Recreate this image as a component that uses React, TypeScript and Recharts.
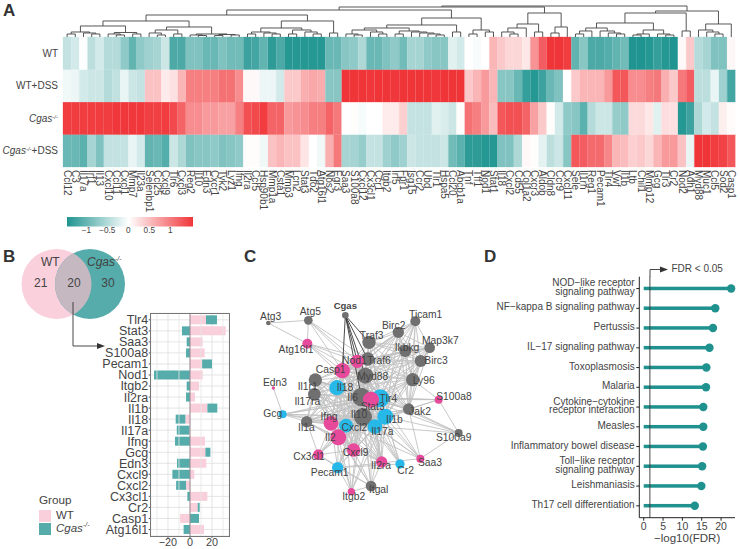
import {
  Bar,
  BarChart,
  CartesianGrid,
  Cell,
  ComposedChart,
  Line,
  LineChart,
  ReferenceArea,
  ReferenceLine,
  Scatter,
  XAxis,
  YAxis,
} from "recharts";

const FONT = "'Liberation Sans', Arial, sans-serif";
const INK = "#444444";
const TEAL = "#1f918e";
const PINK = "#f9cfdb";
const BAR_TEAL = "#55acaa";

// ---- A: heatmap ----
const genes = [
  "Ccl12", "C3", "Il17a", "Irf1", "Il13", "Cxcl10", "Ccl11", "Cxcl1", "Mmp7", "Il23a", "Selenbp1", "Ccl25", "Cxcl9", "Tlr6",
  "Cxcl3", "Reg2", "Il10", "Edn3", "Cxcr1", "Tyk2", "Lyz1", "Ifng", "Il2ra", "Ccr5", "Hsp90b1", "Mmp1a", "Csta1", "Mmp3",
  "Lcn2", "Stat3", "Tdo2", "Atg16l1", "Nos2", "Egr3", "Saa3", "S100a8", "Cxcl12", "Cx3cl1", "Ccr1", "Itgb2", "Irf5", "Fpr1",
  "Isg15", "Ccr2", "Ubd", "Tlr1", "Hspa5", "Ccl20", "Abcb1a", "Tnf", "Tff1", "Nod1", "Stat1", "Il18", "Cxcl2", "Cd55",
  "Col1a2", "Cxcr3", "Aldob", "Cldn8", "Ccr9", "Cxcl11", "Sele", "Il1rn", "Reg1", "Pecam1", "Tlr4", "Vwf", "Il1b", "Ltb",
  "Chil1", "Mmp12", "Gcg", "Tlr3", "Cr2", "Nod2", "Adh1", "Myd88", "Muc1", "Ccl5", "Sod2", "Casp1",
];
const zWt = [
  -0.4, -0.3, -0.02, -0.45, -0.3, -0.5, -0.5, -0.75, -1.05, -0.75, -0.65, -0.6, -0.35, -1.2, -1.2, -0.85, -0.85, -1.0, -1.0, -0.85,
  -0.95, -0.95, -1.3, -1.25, -1.05, -1.4, -1.2, -1.45, -1.45, -1.45, -1.45, -1.45, -1.0, -1.0, -0.8, -0.75, -0.55, -1.0, -1.0, -0.85,
  -0.75, -0.95, -0.6, -0.6, -0.75, -0.8, -0.8, -0.2, -0.3, 0, -0.05, 0, 0.55, 0.4, 0.3, 0.3, 0.18, 0.8, 1.2, 1.5,
  1.5, 1.45, -1.05, -0.8, -1.2, -1.2, -1.15, -1.05, -0.95, -1.5, -1.5, -1.45, -1.35, -1.45, -1.5, 0.05, 0.4, -0.5, -0.6, -0.85, -0.85, 0.06,
];
const zWtDss = [
  -0.1, -0.12, -0.3, -0.35, -0.35, -0.5, -0.42, -0.15, -0.35, -0.4, 0.45, 0.45, 0.15, 0.22, 0.55, 0.95, 0.95, 0.95, 0.95, 1.05,
  1.05, 0.85, 0.05, 0.05, -0.12, -0.12, -0.3, 0.4, 0.4, 0.6, 0.65, 0.62, -0.8, -0.8, 1.5, 1.5, 1.5, 1.48, 1.5, 1.5,
  1.48, 1.5, 1.5, 1.5, 1.5, 1.48, 1.5, 1.5, 1.5, 0.4, 0.55, 0.75, 0.55, -0.8, -0.8, -1.0, -1.35, -1.45, -1.3, -1.0,
  -0.85, 0, 0.4, 0.55, 0.55, 0.55, 0.75, 1.25, 1.25, 0.85, 0.85, 0.95, 1.0, 0.6, 0.4, 1.0, 1.2, -0.45, -0.45, -0.15, -0.65, -1.25,
];
const zCgas = [
  1.45, 1.45, 1.45, 1.45, 1.45, 1.45, 1.48, 1.48, 1.48, 1.48, 1.42, 1.42, 1.45, 1.35, 1.15, 0.85, 0.85, 0.75, 0.75, 0.7,
  0.7, 0.95, 1.3, 1.35, 1.45, 1.15, 1.15, 0.75, 0.8, 0.85, 0.95, 0.95, 1.15, 1.0, 0, 0.02, -0.06, 0, 0, 0.15,
  0.15, 0.35, -0.4, -0.4, -0.4, -0.2, -0.25, -0.35, 0.02, 1.05, 0.95, 0.75, 0.5, 1.25, 1.3, 1.3, 1.15, 0.7, 0.4, 0.02,
  -0.3, -0.75, -0.8, -1.1, -0.5, -0.35, -0.35, -0.7, -0.75, 0.28, 0.28, 0.18, -0.2, 0.25, 0.22, -1.45, -1.3, -0.55, -0.3, -0.4, 0.12, 0.03,
];
const zCgasDss = [
  -1.0, -1.0, -1.1, -0.6, -0.85, -0.4, -0.4, -0.4, -0.15, -0.3, -1.05, -1.0, -1.15, -0.35, -0.55, -0.85, -0.8, -0.8, -0.75, -0.85,
  -0.8, -0.75, 0.02, 0.02, -0.1, 0.45, 0.55, 0.45, 0.45, 0.2, 0, -0.1, 0.6, 1.0, -0.6, -0.6, -0.7, -0.4, -0.4, -0.65,
  -0.75, -0.65, -0.35, -0.4, -0.4, -0.4, -0.35, -0.95, -1.1, -1.4, -1.4, -1.45, -1.45, -0.85, -0.85, -0.55, 0.05, 0.02, -0.18, -0.45,
  -0.35, -0.8, 1.25, 1.2, 1.1, 1.1, 0.9, 0.55, 0.5, 0.35, 0.4, 0.3, 0.55, 0.75, 0.75, 0.45, -0.15, 1.5, 1.5, 1.45, 1.4, 1.25,
];
const heatRowsBottomUp = [zCgasDss, zCgas, zWtDss, zWt];
const heatTable = genes.map((gene) => ({ gene, r0: 1, r1: 1, r2: 1, r3: 1 }));
const colorTicks = [-1, -0.5, 0, 0.5, 1];
const colorRange = [-1.46, 1.54];

// dendrogram: [merge height, left, right], leaves are 1-based column numbers
type TreeNode = number | [number, TreeNode, TreeNode];
const dendroC1: TreeNode = [22,
  [16,
    [11,
      [5, [3, 1, 2], [4, 3, [3, 4, 5]]],
      [4.5, [3, 6, [2, 7, 8]], [3, 9, 10]]],
    [10,
      [7, [4, 11, [2, 12, 13]], [3, 14, 15]],
      [3, [2, 16, [1.5, 17, 18]], [2.5, [1.5, 19, 20], [2, 21, 22]]]]],
  [16,
    [9,
      [5, [3, 23, 24], [4, 25, [3, 26, 27]]],
      [7, [3, 28, 29], [5, 30, [3, 31, 32]]]],
    [4, 33, 34]]];
const dendroC2: TreeNode = [19,
  [12,
    [9,
      [7, [3, 35, [2, 36, 37]], [5, 38, [3, 39, 40]]],
      [6, [3, 41, 42], [5, 43, [4, 44, [3, 45, [2, 46, 47]]]]]],
    [5, 48, 49]],
  [7, [3, 50, 51], [5, 52, 53]]];
const dendroC3: TreeNode = [24,
  [13,
    [9, [5, 54, [3, 55, 56]], 57],
    [5, 58, 59]],
  [10, [4, 60, 61], 62]];
const dendroC4: TreeNode = [26,
  [24,
    [14,
      [9, [6, [3, 63, 64], 65], [6, 66, [4, 67, [3, 68, 69]]]],
      [7, [3, [2, 70, 71], 72], [3, 73, [2, 74, 75]]]],
    [6, 76, 77]],
  [13, [7, 78, [5, 79, [3, 80, 81]]], 82]];
const dendroRoot: TreeNode = [31, [30, [27, dendroC1, dendroC2], dendroC3], dendroC4];

// ---- B: venn and stacked bars ----
const vennCounts = [
  { x: 40.7, y: 43, text: "21" },
  { x: 74, y: 43, text: "20" },
  { x: 108, y: 43, text: "30" },
];
const sharedGenes = [
  "Tlr4", "Stat3", "Saa3", "S100a8", "Pecam1", "Nod1", "Itgb2", "Il2ra", "Il1b", "Il18",
  "Il17a", "Ifng", "Gcg", "Edn3", "Cxcl9", "Cxcl2", "Cx3cl1", "Cr2", "Casp1", "Atg16l1",
];
const wtScores = [14.5, 32.4, 11.5, 13.3, 11, 11.5, 8.2, 4.5, 15.8, -4.2, -0.5, 13.6, 14, 14.8, 3.9, -3.6, 15.8, 7, -9, 12.7];
const cgasScores = [10, -7.3, -3, -3.6, 9, -32.7, -3, -3.6, 9, -8.8, -11.5, -13.6, 4.5, -11.8, -16, -9, -2.4, 1.8, 8.2, -5.8];
const barTable = sharedGenes.map((gene, i) => ({ gene, wt: wtScores[i], cgas: cgasScores[i] }));

// ---- C: network (layout units) ----
// name, x, y, radius, kind, label x, label y
type NetNode = [string, number, number, number, "g" | "p" | "b", number, number];
const netNodes: NetNode[] = [
  ["Cgas", 331, 241, 10, "g", 331, 211], ["Atg3", 100, 264, 7, "g", 107, 243], ["Atg5", 220, 256, 13, "g", 226, 228],
  ["Atg16l1", 217, 326, 15, "p", 183, 342], ["Traf3", 402, 322, 20, "g", 410, 300], ["Birc2", 490, 292, 17, "g", 476, 270],
  ["Ticam1", 541, 259, 15, "g", 572, 238], ["Map3k7", 584, 338, 16, "g", 616, 316], ["Ikbkg", 511, 348, 18, "g", 516, 337],
  ["Birc3", 557, 378, 18, "g", 603, 375], ["Traf6", 398, 372, 20, "g", 432, 375], ["Nod1", 367, 379, 20, "p", 358, 375],
  ["Casp1", 322, 407, 23, "p", 287, 402], ["Myd88", 391, 422, 24, "g", 413, 424], ["Ly96", 533, 434, 20, "g", 566, 436],
  ["Il1r1", 241, 435, 20, "g", 218, 455], ["Il18", 306, 458, 23, "b", 330, 457], ["Edn3", 115, 459, 5, "p", 120, 443],
  ["Il17ra", 238, 478, 19, "g", 217, 498], ["Il6", 379, 486, 28, "g", 353, 486], ["Tlr4", 436, 490, 27, "b", 460, 489],
  ["Stat3", 408, 494, 24, "p", 413, 515], ["S100a8", 611, 494, 12, "p", 657, 483], ["Jak2", 521, 522, 17, "g", 555, 530],
  ["Gcg", 143, 538, 12, "b", 113, 534], ["Il10", 384, 546, 27, "g", 372, 539], ["Il1b", 451, 545, 24, "b", 478, 552],
  ["Ifng", 288, 565, 22, "p", 282, 544], ["Cxcl2", 333, 572, 21, "b", 358, 577], ["Il1a", 215, 560, 17, "g", 214, 578],
  ["Il17a", 420, 575, 22, "b", 442, 590], ["S100a9", 671, 594, 12, "g", 656, 606], ["Il2", 310, 607, 24, "p", 286, 607],
  ["Cxcl9", 356, 645, 20, "p", 362, 652], ["Cx3cl1", 250, 659, 16, "p", 222, 664], ["Saa3", 556, 671, 12, "p", 585, 682],
  ["Il2ra", 440, 681, 17, "p", 438, 690], ["Cr2", 495, 687, 14, "b", 512, 706], ["Pecam1", 308, 698, 17, "b", 284, 713],
  ["Itgb2", 349, 770, 11, "p", 356, 784], ["Itgal", 408, 753, 16, "g", 431, 764],
];
const immuneCluster = "Il6 Il10 Il1b Tlr4 Stat3 Il17a Il2 Ifng Cxcl2 Il18 Casp1 Myd88 Cxcl9 Il2ra Il1a Il1r1 Il17ra Nod1".split(" ");
const signalCluster = "Myd88 Traf6 Traf3 Birc2 Birc3 Ikbkg Ticam1 Map3k7 Ly96 Tlr4 Nod1 Casp1 Il1b Il6 Jak2".split(" ");
const cgasPartners = "Casp1 Nod1 Traf6 Traf3 Myd88 Il6".split(" ");
const extraEdges: [string, string][] = [
  ["Atg3", "Atg5 Atg16l1"], ["Atg5", "Atg16l1 Casp1 Traf6 Myd88 Nod1"], ["Atg16l1", "Casp1 Nod1 Myd88 Traf6 Il1b"],
  ["Edn3", "Gcg"], ["Gcg", "Il6 Il10 Il1b Stat3 Il17a Il1a Cxcl2 Tlr4"], ["S100a8", "Tlr4 Jak2 S100a9 Stat3 Il1b Ly96 Il6"],
  ["S100a9", "Tlr4 Jak2 Il1b Saa3 Il6 Il17a"], ["Saa3", "Il6 Il1b Tlr4 Il17a Jak2 Cxcl2 Il10 Pecam1"],
  ["Cx3cl1", "Il6 Il10 Il2 Ifng Cxcl9 Cxcl2 Pecam1 Il1a Stat3 Itgal"], ["Pecam1", "Il6 Il1b Il10 Il2 Itgal Itgb2 Cr2 Stat3 Ifng Il17a"],
  ["Itgb2", "Itgal Il6 Il10 Il2 Ifng Cxcl2 Il1b Il17a"], ["Itgal", "Il2 Il6 Il10 Ifng Il2ra Il1b Cxcl9 Stat3"],
  ["Cr2", "Il6 Il10 Il1b Il17a Stat3 Tlr4"], ["Jak2", "Stat3 Il10 Il2 Il17a Ifng"], ["Ly96", "Stat3 Il10 Il18"],
];

// ---- D: lollipops ----
const pathways = [
  "NOD\u2212like receptor\nsignaling pathway", "NF\u2212kappa B signaling pathway", "Pertussis", "IL\u221217 signaling pathway",
  "Toxoplasmosis", "Malaria", "Cytokine\u2212cytokine\nreceptor interaction", "Measles", "Inflammatory bowel disease",
  "Toll\u2212like receptor\nsignaling pathway", "Leishmaniasis", "Th17 cell differentiation",
];
const fdrScores = [22.6, 18.5, 17.9, 17, 16.2, 16.1, 15.4, 15.4, 15.3, 15.1, 14.9, 13.2];
const fdrCutoff = 1.6;
const pathwayTable = pathways.map((name, i) => ({ name, score: fdrScores[i] }));

// ---- helpers ----
function mix(a: number[], b: number[], t: number) {
  return `rgb(${a.map((v, i) => Math.round(v + (b[i] - v) * t)).join(",")})`;
}
function zColor(z: number) {
  const t = Math.min(Math.abs(z) / 1.5, 1);
  return z < 0 ? mix([255, 255, 255], [31, 148, 144], t) : mix([255, 255, 255], [240, 53, 57], t);
}

type Pt = { x: number; y: number | null };
function treePoints(node: TreeNode, out: Pt[]): { x: number; h: number } {
  if (typeof node === "number") return { x: node, h: 0 };
  const [h, left, right] = node;
  const l = treePoints(left, out);
  const r = treePoints(right, out);
  out.push({ x: l.x, y: l.h }, { x: l.x, y: h }, { x: r.x, y: h }, { x: r.x, y: r.h }, { x: r.x, y: null });
  return { x: (l.x + r.x) / 2, h };
}
const dendroPoints: Pt[] = [];
treePoints(dendroRoot, dendroPoints);

const nodeByName = new Map(netNodes.map((n) => [n[0], n]));
function edgePoints(pairs: [string, string][]): Pt[] {
  const out: Pt[] = [];
  pairs.forEach(([a, b]) => {
    const na = nodeByName.get(a);
    const nb = nodeByName.get(b);
    if (!na || !nb) return;
    out.push({ x: na[1], y: na[2] }, { x: nb[1], y: nb[2] }, { x: nb[1], y: null });
  });
  return out;
}
const cliquePairs = (names: string[]) => {
  const out: [string, string][] = [];
  names.forEach((a, i) => names.slice(i + 1).forEach((b) => out.push([a, b])));
  return out;
};
const greyEdges = edgePoints([
  ...cliquePairs(immuneCluster),
  ...cliquePairs(signalCluster),
  ...extraEdges.flatMap(([a, list]) => list.split(" ").map((b) => [a, b] as [string, string])),
]);
const darkEdges = edgePoints(cgasPartners.map((b) => ["Cgas", b] as [string, string]));
const nodeMarks = netNodes.map((n) => ({ x: n[1], y: n[2], r: n[3] / 3, kind: n[4] }));
const labelMarks = netNodes.map((n) => ({ x: n[5], y: n[6], name: n[0] }));
const kindFill = { g: "#707070", p: "#e84a9b", b: "#27b8ea" };

// ---- small render parts ----
function CgasLabel({ suffix = "", size = 10 }: { suffix?: string; size?: number }) {
  return (
    <>
      <tspan fontStyle="italic">Cgas</tspan>
      <tspan fontStyle="italic" fontSize={size * 0.6} dy={-3}>
        -/-
      </tspan>
      {suffix ? <tspan dy={3}>{suffix}</tspan> : null}
    </>
  );
}

function RowTick({ x, y, payload }: any) {
  const v = payload.value;
  return (
    <text x={x} y={y} dy={3.5} textAnchor="end" fontSize={10} fill={INK} fontFamily={FONT}>
      {v === 3.5 ? "WT" : v === 2.5 ? "WT+DSS" : v === 1.5 ? <CgasLabel /> : <CgasLabel suffix="+DSS" />}
    </text>
  );
}

function GeneTick({ x, y, payload }: any) {
  return (
    <text x={x} y={y} dy={3.5} textAnchor="start" fontSize={10} fill={INK} fontFamily={FONT} transform={`rotate(90 ${x} ${y})`}>
      {payload.value}
    </text>
  );
}

function PathwayTick({ x, y, payload }: any) {
  const lines = String(payload.value).split("\n");
  return (
    <text x={x} y={y} textAnchor="end" fontSize={10} fill={INK} fontFamily={FONT}>
      {lines.map((line, i) => (
        <tspan key={i} x={x} y={y + (i - (lines.length - 1) / 2) * 8.4 + 2}>
          {line}
        </tspan>
      ))}
    </text>
  );
}

function Lollipop({ x, y, width, height }: any) {
  return (
    <g>
      <rect x={x} y={y} width={width} height={height} fill={TEAL} />
      <circle cx={x + width} cy={y + height / 2} r={4.2} fill={TEAL} />
    </g>
  );
}

function CircleMark({ cx, cy, payload }: any) {
  return <circle cx={cx} cy={cy} r={payload.r} fill={payload.fill ?? kindFill[payload.kind as "g"]} />;
}

function NameMark({ cx, cy, payload }: any) {
  const bold = payload.name === "Cgas";
  return (
    <text x={cx} y={cy} dy={3.5} textAnchor="middle" fontSize={bold ? 9.5 : 10.3} fontWeight={bold ? 700 : 400} fill="#444" fontFamily={FONT}>
      {payload.name}
    </text>
  );
}

function LensMark({ cx, cy }: any) {
  const r = 35;
  const half = 30.7;
  return (
    <path d={`M${cx} ${cy - half}A${r} ${r} 0 0 1 ${cx} ${cy + half}A${r} ${r} 0 0 1 ${cx} ${cy - half}Z`} fill="#c6b8c1" />
  );
}

function CountMark({ cx, cy, payload }: any) {
  return (
    <text x={cx} y={cy} dy={4} textAnchor="middle" fontSize={12} fill={INK} fontFamily={FONT}>
      {payload.text}
    </text>
  );
}

function NoMark() {
  return <g />;
}

function PanelLetter({ text, x, y }: { text: string; x: number; y: number }) {
  return (
    <div style={{ position: "absolute", left: x, top: y, fontSize: 17, lineHeight: "17px", fontWeight: 700, color: "#333" }}>{text}</div>
  );
}

export default function App() {
  return (
    <div style={{ position: "absolute", left: 0, top: 0, width: 740, height: 549, overflow: "hidden", background: "#fff", fontFamily: FONT }}>
      <PanelLetter text="A" x={3} y={2} />
      <PanelLetter text="B" x={3} y={248} />
      <PanelLetter text="C" x={244} y={248} />
      <PanelLetter text="D" x={484} y={248} />

      {/* heatmap */}
      <div style={{ position: "absolute", left: 0, top: 0 }}>
        <BarChart width={740} height={215} data={heatTable} margin={{ top: 37, left: 3, right: 4.6, bottom: 0 }} barCategoryGap={0}>
          <XAxis dataKey="gene" interval={0} height={48} axisLine={false} tickLine={false} tickSize={0} tickMargin={3} tick={<GeneTick />} />
          <YAxis type="number" domain={[0, 4]} ticks={[0.5, 1.5, 2.5, 3.5]} width={60} axisLine={false} tickLine={false} tickSize={0} tickMargin={5} tick={<RowTick />} />
          {heatRowsBottomUp.map((row, r) => (
            <Bar key={r} dataKey={`r${r}`} stackId="heat" isAnimationActive={false}>
              {row.map((z, i) => (
                <Cell key={i} fill={zColor(z)} stroke={zColor(z)} strokeWidth={0.3} />
              ))}
            </Bar>
          ))}
        </BarChart>
      </div>

      {/* dendrogram */}
      <div style={{ position: "absolute", left: 63, top: 4 }}>
        <LineChart width={672.4} height={33} data={dendroPoints} margin={{ top: 0, left: 0, right: 0, bottom: 0 }}>
          <XAxis dataKey="x" type="number" domain={[0.5, 82.5]} hide />
          <YAxis type="number" domain={[0, 33]} hide />
          <Line dataKey="y" stroke="#444" strokeWidth={0.9} dot={false} isAnimationActive={false} connectNulls={false} />
        </LineChart>
      </div>

      {/* colour key */}
      <div style={{ position: "absolute", left: 60.3, top: 217.3 }}>
        <ComposedChart width={140} height={26} margin={{ top: 0, left: 7, right: 7, bottom: 0 }}>
          <defs>
            <linearGradient id="zKey" x1="0" x2="1" y1="0" y2="0">
              <stop offset="0" stopColor="#1f9490" />
              <stop offset="0.49" stopColor="#ffffff" />
              <stop offset="1" stopColor="#f03539" />
            </linearGradient>
          </defs>
          <XAxis
            type="number"
            dataKey="x"
            domain={colorRange}
            ticks={colorTicks}
            height={16.6}
            axisLine={false}
            tickLine={false}
            tickSize={0}
            tickMargin={1}
            tick={{ fontSize: 8.2, fill: INK, fontFamily: FONT }}
            tickFormatter={(v: number) => String(v).replace("-", "\u2212")}
          />
          <YAxis dataKey="y" type="number" domain={[0, 1]} hide />
          <Scatter data={colorRange.map((x, i) => ({ x, y: i }))} shape={<NoMark />} isAnimationActive={false} />
          <ReferenceArea x1={colorRange[0]} x2={colorRange[1]} y1={0} y2={1} fill="url(#zKey)" fillOpacity={1} stroke="none" />
        </ComposedChart>
      </div>

      {/* venn */}
      <div style={{ position: "absolute", left: 0, top: 240 }}>
        <ComposedChart width={130} height={90} margin={{ top: 0, left: 0, right: 0, bottom: 0 }}>
          <XAxis dataKey="x" type="number" domain={[0, 130]} hide />
          <YAxis dataKey="y" type="number" domain={[0, 90]} reversed hide />
          <Scatter data={[{ x: 56.5, y: 44, r: 35, fill: "#fad0dc" }]} shape={<CircleMark />} isAnimationActive={false} />
          <Scatter data={[{ x: 90, y: 44, r: 35, fill: "#55acab" }]} shape={<CircleMark />} isAnimationActive={false} />
          <Scatter data={[{ x: 73.25, y: 44 }]} shape={<LensMark />} isAnimationActive={false} />
          <Scatter data={vennCounts} shape={<CountMark />} isAnimationActive={false} />
        </ComposedChart>
      </div>
      <div style={{ position: "absolute", left: 41, top: 255, fontSize: 12, color: INK }}>WT</div>
      <div style={{ position: "absolute", left: 87, top: 255, fontSize: 12, color: INK, fontStyle: "italic" }}>
        Cgas<sup style={{ fontSize: 7, lineHeight: 0 }}>-/-</sup>
      </div>

      {/* stacked bars */}
      <div style={{ position: "absolute", left: 90, top: 305 }}>
        <BarChart width={145} height={244} data={barTable} layout="vertical" stackOffset="sign" barSize={9} margin={{ top: 8.3, left: 0.7, right: 5.7, bottom: 0 }}>
          <CartesianGrid stroke="#dedede" strokeWidth={0.8} />
          <XAxis type="number" domain={[-35.7, 35.7]} ticks={[-20, 0, 20]} height={13} axisLine={false} tickSize={2} tickMargin={0} tickLine={{ stroke: "#555" }} tick={{ fontSize: 10.8, fill: INK, fontFamily: FONT }} tickFormatter={(v: number) => String(v).replace("-", "\u2212")} />
          <YAxis type="category" dataKey="gene" interval={0} width={60} padding={{ top: 1, bottom: 1 }} axisLine={false} tickSize={2} tickMargin={0.5} tickLine={{ stroke: "#555" }} tick={{ fontSize: 12.5, fill: INK, fontFamily: FONT }} />
          {[-30, -10, 10, 30].map((v) => (
            <ReferenceLine key={v} x={v} stroke="#e6e6e6" strokeWidth={0.8} />
          ))}
          <Bar dataKey="wt" stackId="g" fill={PINK} isAnimationActive={false} />
          <Bar dataKey="cgas" stackId="g" fill={BAR_TEAL} isAnimationActive={false} />
          <ReferenceLine x={0} stroke="#9c8a92" strokeWidth={1} />
        </BarChart>
      </div>
      <div style={{ position: "absolute", left: 150, top: 312.5, width: 78, height: 222, border: "1.5px solid #777", pointerEvents: "none" }} />

      {/* bar legend */}
      <div style={{ position: "absolute", left: 39, top: 493, fontSize: 11.7, color: INK }}>Group</div>
      <div style={{ position: "absolute", left: 39, top: 510, width: 12, height: 12, background: PINK }} />
      <div style={{ position: "absolute", left: 39, top: 523, width: 12, height: 12, background: BAR_TEAL }} />
      <div style={{ position: "absolute", left: 56, top: 509, fontSize: 11.5, color: INK }}>WT</div>
      <div style={{ position: "absolute", left: 56, top: 522, fontSize: 11.5, color: INK, fontStyle: "italic" }}>
        Cgas<sup style={{ fontSize: 7, lineHeight: 0 }}>-/-</sup>
      </div>

      {/* network */}
      <div style={{ position: "absolute", left: 235, top: 235 }}>
        <ComposedChart width={250} height={314} margin={{ top: 0, left: 0, right: 0, bottom: 0 }}>
          <XAxis dataKey="x" type="number" domain={[0, 750]} hide />
          <YAxis dataKey="y" type="number" domain={[0, 942]} reversed hide />
          <Line data={greyEdges} dataKey="y" stroke="#c2c2c2" strokeWidth={0.9} dot={false} isAnimationActive={false} connectNulls={false} />
          <Line data={darkEdges} dataKey="y" stroke="#3a3a3a" strokeWidth={0.9} dot={false} isAnimationActive={false} connectNulls={false} />
          <Scatter data={nodeMarks} shape={<CircleMark />} isAnimationActive={false} />
          <Scatter data={labelMarks} shape={<NameMark />} isAnimationActive={false} />
        </ComposedChart>
      </div>

      {/* lollipop */}
      <div style={{ position: "absolute", left: 480, top: 270 }}>
        <BarChart width={260} height={279} data={pathwayTable} layout="vertical" barSize={3.5} margin={{ top: 6.7, left: 0, right: 5, bottom: 0 }}>
          <XAxis
            type="number"
            domain={[-1.14, 23.6]}
            ticks={[0, 5, 10, 15, 20]}
            height={31.3}
            tickSize={3}
            tickMargin={2}
            axisLine={{ stroke: "#222" }}
            tickLine={{ stroke: "#222" }}
            tick={{ fontSize: 10.5, fill: INK, fontFamily: FONT }}
            label={{ value: "\u2212log10(FDR)", position: "insideBottom", offset: 7, fontSize: 11.5, fill: INK, fontFamily: FONT }}
          />
          <YAxis type="category" dataKey="name" interval={0} width={159.3} padding={{ top: 2, bottom: 2 }} tickSize={3} tickMargin={1.6} axisLine={{ stroke: "#222" }} tickLine={{ stroke: "#222" }} tick={<PathwayTick />} />
          <Bar dataKey="score" shape={<Lollipop />} isAnimationActive={false} />
          <ReferenceLine x={fdrCutoff} stroke="#333" strokeWidth={0.9} />
        </BarChart>
      </div>
      <div style={{ position: "absolute", left: 671.5, top: 263, fontSize: 10, color: INK }}>FDR &lt; 0.05</div>

      {/* arrows */}
      <svg width={740} height={549} style={{ position: "absolute", left: 0, top: 0, pointerEvents: "none" }}>
        <path d="M73 302V346H100" fill="none" stroke="#333" strokeWidth={0.9} />
        <path d="M105 346L97 343V349Z" fill="#333" />
        <path d="M650 277V269.5H662" fill="none" stroke="#333" strokeWidth={0.9} />
        <path d="M668 269.5L660 266.5V272.5Z" fill="#333" />
      </svg>
    </div>
  );
}
